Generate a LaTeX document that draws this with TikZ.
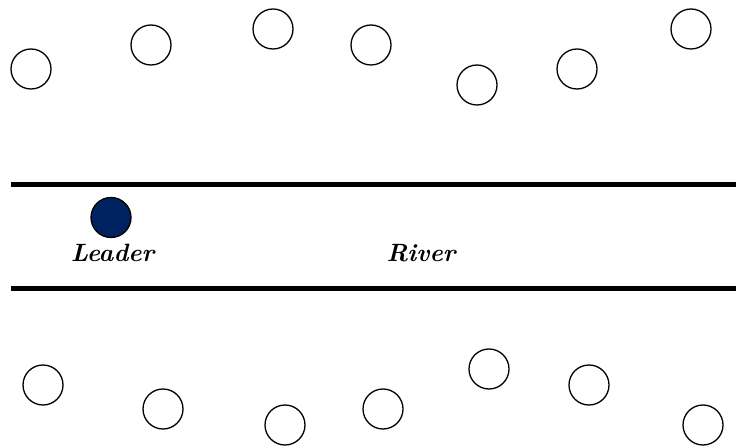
\documentclass[tikz,border=0pt]{standalone}
\definecolor{leadernavy}{RGB}{0,34,96}
\begin{document}
\begin{tikzpicture}[x=1pt,y=-1pt,
  fish/.style={circle,draw=black,line width=1.3pt,minimum size=40pt,inner sep=0pt},
  leaderfish/.style={fish,fill=leadernavy},
  bank/.style={line width=5pt},
  lbl/.style={font=\fontsize{25}{30}\selectfont\bfseries\itshape,anchor=base,inner sep=0pt}]
\useasboundingbox (0,0) rectangle (736,446);
% top
\node[fish] (t1) at (31,69) {};
\node[fish] (t2) at (151,45) {};
\node[fish] (t3) at (273,29) {};
\node[fish] (t4) at (371,45) {};
\node[fish] (t5) at (477,85) {};
\node[fish] (t6) at (577,69) {};
\node[fish] (t7) at (691,29) {};
% bottom
\node[fish] (b1) at (43,385) {};
\node[fish] (b2) at (163,409) {};
\node[fish] (b3) at (285,425) {};
\node[fish] (b4) at (383,409) {};
\node[fish] (b5) at (489,369) {};
\node[fish] (b6) at (589,385) {};
\node[fish] (b7) at (703,425) {};
% river banks
\coordinate (ul) at (11,185);
\coordinate (ur) at (736,185);
\coordinate (ll) at (11,288.5);
\coordinate (lr) at (736,288.5);
\draw[bank] (ul) -- (ur);
\draw[bank] (ll) -- (lr);
% leader
\node[leaderfish] (leader) at (111,217.5) {};
\node[lbl] (leaderlbl) at (112.5,262) {Leader};
\node[lbl] (river) at (421,262) {River};
\end{tikzpicture}
\end{document}
